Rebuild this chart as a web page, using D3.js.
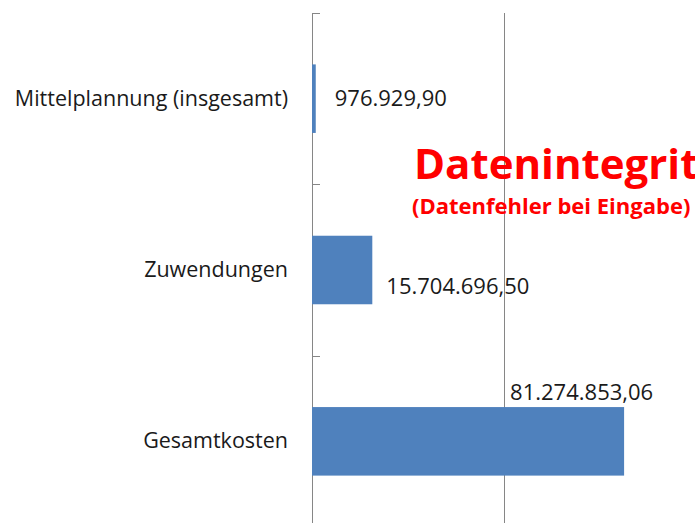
<!DOCTYPE html>
<html lang="de">
<head>
  <meta charset="UTF-8">
  <title>Datenintegrität</title>
  <script src="https://d3js.org/d3.v7.min.js"></script>
  <style>
    body {
      margin: 0;
      background-color: #fff;
      overflow: hidden;
    }
    .cat-label, .value-label {
      font-family: "Open Sans", sans-serif;
      fill: #1a1a1a;
    }
    .cat-label {
      font-size: 21.5px;
    }
    .value-label {
      font-size: 22px;
    }
    .note {
      font-family: "Open Sans", sans-serif;
      font-weight: bold;
      fill: #ff0000;
    }
    .bar-rect {
      fill: #4f81bd;
    }
    .grid-line, .axis-line {
      stroke: #868686;
      stroke-width: 1px;
    }
  </style>
</head>
<body>
  <div id="chart-area"></div>

  <script>
    const categories = ["Mittelplannung (insgesamt)", "Zuwendungen", "Gesamtkosten"];
    const amounts = [976929.90, 15704696.50, 81274853.06];
    const valueLabels = ["976.929,90", "15.704.696,50", "81.274.853,06"];
    const gridValues = [50000000, 100000000];

    const dataSet = categories.map((name, i) => ({ name, amount: amounts[i], label: valueLabels[i] }));

    const width = 695, height = 523;
    const plotLeft = 312, plotTop = 13, plotBottom = 527;

    const svg = d3.select("#chart-area")
      .append("svg")
      .attr("width", width)
      .attr("height", height);

    const xScale = d3.scaleLinear()
      .domain([0, 100000000])
      .range([plotLeft, 696]);

    // category slots (no padding) for the tick marks, padded scale for the bars
    const slotScale = d3.scaleBand()
      .domain(categories)
      .range([plotTop, plotBottom]);

    const barScale = d3.scaleBand()
      .domain(categories)
      .range([plotTop, plotBottom])
      .paddingInner(0.6)
      .paddingOuter(0.3);

    // vertical grid lines
    svg.selectAll(".grid-line")
      .data(gridValues)
      .enter()
      .append("line")
      .attr("class", "grid-line")
      .attr("x1", d => Math.round(xScale(d)) + 0.5)
      .attr("x2", d => Math.round(xScale(d)) + 0.5)
      .attr("y1", plotTop)
      .attr("y2", plotBottom);

    // category axis with ticks between the categories
    const boundaries = categories.map(c => slotScale(c));
    svg.append("line")
      .attr("class", "axis-line")
      .attr("x1", plotLeft + 0.5)
      .attr("x2", plotLeft + 0.5)
      .attr("y1", plotTop)
      .attr("y2", plotBottom);

    svg.selectAll(".tick-mark")
      .data(boundaries)
      .enter()
      .append("line")
      .attr("class", "axis-line")
      .attr("x1", plotLeft)
      .attr("x2", plotLeft + 8)
      .attr("y1", d => Math.round(d) + 0.5)
      .attr("y2", d => Math.round(d) + 0.5);

    svg.selectAll(".cat-label")
      .data(dataSet)
      .enter()
      .append("text")
      .attr("class", "cat-label")
      .attr("x", plotLeft - 24)
      .attr("y", item => slotScale(item.name) + slotScale.bandwidth() / 2 + 7)
      .attr("text-anchor", "end")
      .text(item => item.name);

    svg.selectAll(".bar-rect")
      .data(dataSet)
      .enter()
      .append("rect")
      .attr("class", "bar-rect")
      .attr("x", xScale(0))
      .attr("y", item => barScale(item.name))
      .attr("width", item => xScale(item.amount) - xScale(0))
      .attr("height", barScale.bandwidth());

    // data labels, placed the way the original spreadsheet put them
    const labelOffsets = [
      { dx: 19, dy: 42 },
      { dx: 14, dy: 58 },
      { dx: -114, dy: -7 }
    ];
    svg.selectAll(".value-label")
      .data(dataSet)
      .enter()
      .append("text")
      .attr("class", "value-label")
      .attr("x", (item, i) => xScale(item.amount) + labelOffsets[i].dx)
      .attr("y", (item, i) => barScale(item.name) + labelOffsets[i].dy)
      .text(item => item.label);

    svg.append("text")
      .attr("class", "note")
      .attr("x", 414)
      .attr("y", 179)
      .style("font-size", "42px")
      .text("Datenintegrität");

    svg.append("text")
      .attr("class", "note")
      .attr("x", 412)
      .attr("y", 214)
      .style("font-size", "22px")
      .text("(Datenfehler bei Eingabe)");
  </script>
</body>
</html>
